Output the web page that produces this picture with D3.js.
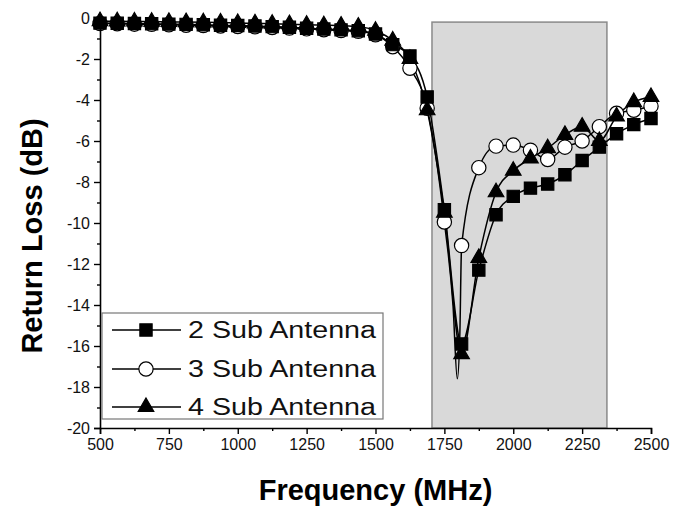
<!DOCTYPE html>
<html><head><meta charset="utf-8">
<script src="https://cdn.jsdelivr.net/npm/d3@7"></script>
<style>html,body{margin:0;padding:0;background:#fff;}svg{display:block;font-family:Arial,"Liberation Sans",sans-serif;}</style>
</head><body>
<svg id="chart" width="673" height="508"></svg>
<script>
// ---- data ----
const freq = [500,562.5,625,687.5,750,812.5,875,937.5,1000,1062.5,1125,1187.5,1250,1312.5,1375,1437.5,1500,1562.5,1625,1687.5,1750,1812.5,1875,1937.5,2000,2062.5,2125,2187.5,2250,2312.5,2375,2437.5,2500];
const sub2 = [-0.25,-0.26,-0.27,-0.28,-0.30,-0.31,-0.33,-0.35,-0.37,-0.39,-0.42,-0.45,-0.50,-0.54,-0.58,-0.62,-0.78,-1.3,-1.85,-3.85,-9.35,-15.9,-12.3,-9.6,-8.7,-8.3,-8.1,-7.65,-6.95,-6.3,-5.65,-5.2,-4.9];
const sub3 = [-0.27,-0.28,-0.30,-0.31,-0.33,-0.35,-0.37,-0.39,-0.41,-0.43,-0.46,-0.49,-0.53,-0.57,-0.61,-0.65,-0.82,-1.4,-2.45,-4.4,-9.95,-11.1,-7.3,-6.25,-6.2,-6.45,-6.9,-6.3,-6.0,-5.3,-4.65,-4.5,-4.3];
const sub4 = [-0.15,-0.16,-0.17,-0.18,-0.19,-0.20,-0.21,-0.22,-0.24,-0.26,-0.28,-0.30,-0.33,-0.35,-0.37,-0.42,-0.62,-1.1,-2.0,-4.5,-9.5,-16.4,-11.7,-8.5,-7.45,-6.85,-6.35,-5.7,-5.3,-6.0,-4.8,-4.1,-3.85];
// extra curve samples (no markers) of the 3 Sub Antenna trace around its resonance
const sub3DipFreq = [1781.25,1797,1806];
const sub3DipVals = [-14.0,-17.6,-15.5];
const bandStart = 1705, bandEnd = 2340, bandTop = -0.2;
const seriesNames = ["2 Sub Antenna","3 Sub Antenna","4 Sub Antenna"];
const xTicks = [500,750,1000,1250,1500,1750,2000,2250,2500];
const yTicks = [0,-2,-4,-6,-8,-10,-12,-14,-16,-18,-20];

// ---- layout ----
const svg = d3.select("#chart");
const L = 100, R = 651, T = 18, B = 428;
const x = d3.scaleLinear().domain([500,2500]).range([L,R]);
const y = d3.scaleLinear().domain([-20,0]).range([B,T]);

// shaded band
svg.append("rect")
  .attr("x", x(bandStart)).attr("y", y(bandTop))
  .attr("width", x(bandEnd)-x(bandStart)).attr("height", y(-20)-y(bandTop))
  .attr("fill","#d9d9d9").attr("stroke","#8a8a8a").attr("stroke-width",1.5);

// series
const mk = (vals, extraF, extraV) => {
  const pts = freq.map((f,i)=>({f, v: vals[i], m: true}));
  if (extraF) extraF.forEach((f,i)=>pts.push({f, v: extraV[i], m:false}));
  pts.sort((a,b)=>a.f-b.f);
  return pts;
};
const series = [
  {name: seriesNames[0], pts: mk(sub2), sym: d3.symbolSquare, size: 150, fill: "#000"},
  {name: seriesNames[1], pts: mk(sub3, sub3DipFreq, sub3DipVals), sym: d3.symbolCircle, size: 160, fill: "#fff"},
  {name: seriesNames[2], pts: mk(sub4), sym: d3.symbolTriangle, size: 105, fill: "#000"}
];
const line = d3.line().x(d=>x(d.f)).y(d=>y(d.v)).curve(d3.curveMonotoneX);

series.forEach(s=>{
  svg.append("path").attr("d", line(s.pts)).attr("fill","none")
    .attr("stroke","#000").attr("stroke-width",1.5);
});
const drawOrder = [1,0,2];
drawOrder.forEach(k=>{
  const s = series[k];
  svg.append("g").selectAll("path").data(s.pts.filter(d=>d.m)).join("path")
    .attr("transform", d=>`translate(${x(d.f)},${y(d.v)})`)
    .attr("d", d3.symbol().type(s.sym).size(s.size))
    .attr("fill", s.fill).attr("stroke","#000").attr("stroke-width",1.2);
});

// axes
const xAxis = svg.append("g").attr("transform",`translate(0,${B})`)
  .call(d3.axisBottom(x).tickValues(xTicks).tickSize(6).tickPadding(5).tickFormat(d=>String(d)));
svg.append("g").attr("transform",`translate(0,${B})`)
  .call(d3.axisBottom(x).tickValues(d3.range(625,2500,250)).tickSize(3).tickFormat(""))
  .call(g=>g.select(".domain").remove());
const yAxis = svg.append("g").attr("transform",`translate(${L},0)`)
  .call(d3.axisLeft(y).tickValues(yTicks).tickSize(6).tickPadding(4).tickFormat(d=>String(d)));
svg.append("g").attr("transform",`translate(${L},0)`)
  .call(d3.axisLeft(y).tickValues(d3.range(-19,0,2)).tickSize(3).tickFormat(""))
  .call(g=>g.select(".domain").remove());
svg.selectAll(".domain").attr("stroke","#000").attr("stroke-width",1.6);
svg.selectAll(".tick line").attr("stroke","#000").attr("stroke-width",1.4);
svg.selectAll(".tick text").attr("font-size","16px").attr("fill","#111")
  .attr("font-family","Arial, 'Liberation Sans', sans-serif");

// axis titles
svg.append("text").attr("x",(L+R)/2).attr("y",500).attr("text-anchor","middle")
  .attr("font-size","29px").attr("font-weight","bold").text("Frequency (MHz)");
svg.append("text").attr("transform","translate(42,236) rotate(-90)").attr("text-anchor","middle")
  .attr("font-size","29px").attr("font-weight","bold").text("Return Loss (dB)");

// legend
const lg = svg.append("g");
lg.append("rect").attr("x",102).attr("y",313).attr("width",281).attr("height",106)
  .attr("fill","#fff").attr("stroke","#777").attr("stroke-width",1.2);
const rowY = [330,369,407];
series.forEach((s,i)=>{
  lg.append("line").attr("x1",112).attr("x2",181).attr("y1",rowY[i]).attr("y2",rowY[i])
    .attr("stroke","#000").attr("stroke-width",1.5);
  lg.append("path").attr("transform",`translate(146,${rowY[i]})`)
    .attr("d", d3.symbol().type(s.sym).size(s.size)).attr("fill",s.fill)
    .attr("stroke","#000").attr("stroke-width",1.2);
  lg.append("text").attr("x",188).attr("y",rowY[i]+8).attr("font-size","23px")
    .attr("textLength",188).attr("lengthAdjust","spacingAndGlyphs").attr("fill","#111")
    .text(s.name);
});
</script>
</body></html>
